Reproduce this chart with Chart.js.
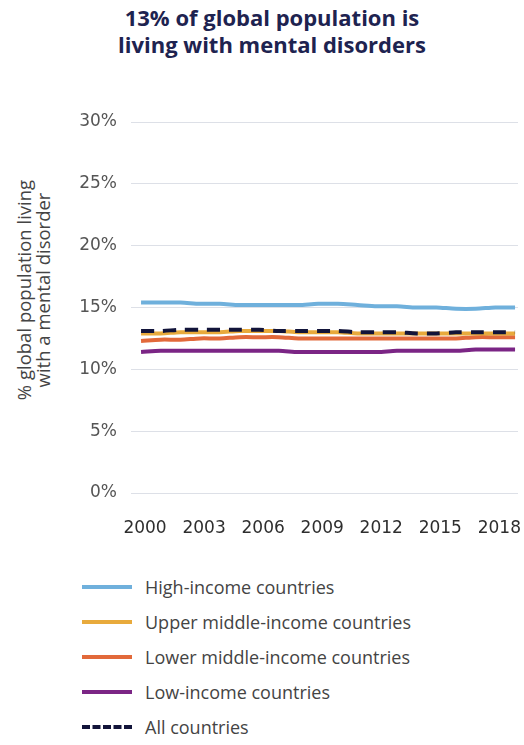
<!DOCTYPE html>
<html>
<head>
<meta charset="utf-8">
<script src="https://cdn.jsdelivr.net/npm/chart.js@4"></script>
<style>
  body { margin: 0; background: #fff; }
  #wrap { position: relative; width: 524px; height: 745px; background: #fff; overflow: hidden; }
  #titulo {
    position: absolute; left: 0; width: 544px; top: 4px; text-align: center;
    font-family: "Open Sans", sans-serif; font-weight: bold; font-size: 22px; line-height: 27px;
    color: #1e2350;
  }
  #eixoY {
    position: absolute; left: 33px; top: 290px; width: 300px;
    transform: translate(-50%, -50%) rotate(-90deg);
    text-align: center; font-family: "Open Sans", sans-serif; font-size: 18.5px; line-height: 19px; color: #444;
  }
  #grafico { position: absolute; left: 0; top: 0; }
  #legenda { position: absolute; left: 82px; top: 569px; font-family: "Open Sans", sans-serif; font-size: 18px; color: #444; }
  .item { height: 35px; display: flex; align-items: center; }
  .amostra { width: 50px; height: 0; margin-right: 13px; }
</style>
</head>
<body>
<div id="wrap">
  <div id="titulo">13% of global population is<br>living with mental disorders</div>
  <div id="eixoY">% global population living<br>with a mental disorder</div>
  <canvas id="grafico" width="524" height="545"></canvas>
  <div id="legenda"></div>
</div>
<script>
// anos e valores (%)
const anos = [2000, 2001, 2002, 2003, 2004, 2005, 2006, 2007, 2008, 2009, 2010, 2011, 2012, 2013, 2014, 2015, 2016, 2017, 2018, 2019];
const anosRotulo = [2000, 2003, 2006, 2009, 2012, 2015, 2018];
const ticksY = [0, 5, 10, 15, 20, 25, 30];

const altaRenda = [15.4, 15.4, 15.4, 15.3, 15.3, 15.2, 15.2, 15.2, 15.2, 15.3, 15.3, 15.2, 15.1, 15.1, 15.0, 15.0, 14.9, 14.9, 15.0, 15.0];
const mediaAlta = [12.9, 12.9, 13.0, 13.0, 13.0, 13.1, 13.1, 13.1, 13.0, 13.0, 13.0, 12.9, 12.9, 12.9, 12.9, 12.9, 12.9, 12.9, 12.9, 12.9];
const mediaBaixa = [12.3, 12.4, 12.4, 12.5, 12.5, 12.6, 12.6, 12.6, 12.5, 12.5, 12.5, 12.5, 12.5, 12.5, 12.5, 12.5, 12.5, 12.6, 12.6, 12.6];
const baixaRenda = [11.4, 11.5, 11.5, 11.5, 11.5, 11.5, 11.5, 11.5, 11.4, 11.4, 11.4, 11.4, 11.4, 11.5, 11.5, 11.5, 11.5, 11.6, 11.6, 11.6];
const todos = [13.1, 13.1, 13.2, 13.2, 13.2, 13.2, 13.2, 13.1, 13.1, 13.1, 13.1, 13.0, 13.0, 13.0, 12.9, 12.9, 13.0, 13.0, 13.0, 13.0];

const series = [
    { nome: 'High-income countries', valores: altaRenda, cor: '#6fb0dc', tracejado: [] },
    { nome: 'Upper middle-income countries', valores: mediaAlta, cor: '#e8aa3c', tracejado: [] },
    { nome: 'Lower middle-income countries', valores: mediaBaixa, cor: '#e2693a', tracejado: [] },
    { nome: 'Low-income countries', valores: baixaRenda, cor: '#7b2585', tracejado: [] },
    { nome: 'All countries', valores: todos, cor: '#12143a', tracejado: [13, 9] }
];

const datasets = series.map((s, i) => ({
    label: s.nome,
    data: s.valores.map((v, j) => ({ x: anos[j], y: v })),
    borderColor: s.cor,
    borderWidth: 4,
    borderDash: s.tracejado,
    pointRadius: 0,
    tension: 0.3,
    fill: false,
    order: s.tracejado.length ? 0 : i + 1
}));

new Chart(document.getElementById('grafico'), {
    type: 'line',
    data: { datasets: datasets },
    options: {
        responsive: false,
        animation: false,
        layout: { padding: { top: 122, right: 6, bottom: 7, left: 0 } },
        plugins: { legend: { display: false }, tooltip: { enabled: false } },
        scales: {
            x: {
                type: 'linear',
                min: 1999.49,
                max: 2019.15,
                afterFit: (s) => { s.height = 45; s.paddingLeft = 0; s.paddingRight = 0; },
                afterBuildTicks: (s) => { s.ticks = anosRotulo.map(v => ({ value: v })); },
                grid: { display: false },
                border: { display: false },
                ticks: {
                    padding: 17,
                    labelOffset: 4,
                    maxRotation: 0,
                    autoSkip: false,
                    color: '#2e2e2e',
                    font: { family: 'DejaVu Sans', size: 17 },
                    callback: (v) => String(v)
                }
            },
            y: {
                min: 0,
                max: 30,
                afterFit: (s) => { s.width = 131; },
                afterBuildTicks: (s) => { s.ticks = ticksY.map(v => ({ value: v })); },
                grid: { color: '#dde0e7', lineWidth: 1, drawTicks: false },
                border: { display: false },
                ticks: {
                    padding: 14,
                    color: '#555',
                    font: { family: 'DejaVu Sans', size: 17 },
                    callback: (v) => v + '%'
                }
            }
        }
    }
});

// legenda em HTML, uma por linha
const legenda = document.getElementById('legenda');
series.forEach(s => {
    const item = document.createElement('div');
    item.className = 'item';
    const amostra = document.createElement('span');
    amostra.className = 'amostra';
    amostra.style.borderTop = '4px ' + (s.tracejado.length ? 'dashed ' : 'solid ') + s.cor;
    const texto = document.createElement('span');
    texto.textContent = s.nome;
    item.appendChild(amostra);
    item.appendChild(texto);
    legenda.appendChild(item);
});
</script>
</body>
</html>
